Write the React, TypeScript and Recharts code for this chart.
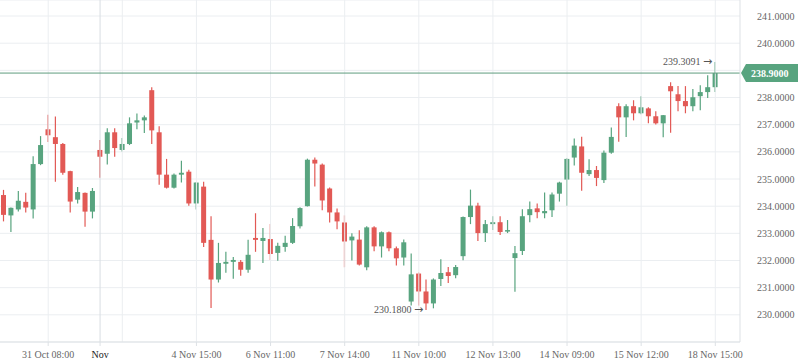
import {
  ComposedChart,
  Bar,
  XAxis,
  YAxis,
  CartesianGrid,
  ReferenceLine,
  ReferenceDot,
} from 'recharts';

const opens = [
  234.41, 233.66, 233.88, 234.16, 233.88, 235.55, 236.83, 236.54, 236.29, 235.29,
  234.24, 234.49, 233.8, 236.07, 235.93, 236.72, 236.07, 236.29, 237.08, 237.16,
  238.27, 236.72, 235.16, 234.68, 235.16, 235.27, 234.1, 234.72, 232.76, 231.3,
  231.88, 231.95, 231.95, 231.66, 232.83, 232.72, 232.79, 232.28, 232.5, 232.65,
  233.26, 234.0, 235.71, 235.53, 234.65, 233.77, 233.4, 232.74, 232.77, 231.75,
  233.22, 232.52, 233.04, 232.45, 232.11, 230.49, 231.52, 230.86, 230.42, 231.32,
  231.57, 231.46, 232.16, 233.6, 234.02, 233.01, 233.34, 233.41, 233.09, 232.09,
  232.35, 233.67, 233.92, 233.74, 233.85, 234.46, 234.98, 235.79, 236.2, 235.18,
  235.33, 234.96, 235.97, 237.68, 237.27, 237.68, 237.42, 237.6, 237.31, 237.05,
  238.42, 238.12, 237.87, 237.68, 238.05, 238.2, 238.38,
];

const closes = [
  233.68, 233.94, 234.2, 233.95, 235.55, 236.25, 236.61, 236.29, 235.23, 234.17,
  234.52, 233.8, 234.56, 235.82, 236.72, 236.14, 236.29, 237.05, 237.16, 237.27,
  236.79, 235.16, 234.68, 235.16, 235.23, 234.1, 234.87, 232.65, 231.3, 231.91,
  231.95, 232.02, 231.66, 232.21, 232.76, 232.83, 232.24, 232.54, 232.65, 233.27,
  233.93, 235.71, 235.57, 234.21, 233.77, 233.44, 232.7, 232.88, 231.85, 233.22,
  232.52, 233.04, 232.45, 232.08, 232.67, 231.49, 230.86, 230.42, 231.3, 231.54,
  231.43, 231.76, 233.6, 234.02, 233.01, 233.34, 233.41, 233.05, 233.12, 232.27,
  233.63, 233.89, 233.78, 233.82, 234.43, 234.87, 235.74, 236.23, 235.23, 235.33,
  235.04, 235.97, 236.55, 237.27, 237.68, 237.42, 237.64, 237.31, 237.05, 237.35,
  238.23, 237.87, 237.68, 238.01, 238.2, 238.38, 238.9,
];

const highs = [
  234.6, 233.95, 234.56, 234.49, 235.84, 236.58, 237.37, 237.3, 236.33, 235.3,
  234.71, 234.5, 234.67, 236.44, 236.87, 236.87, 236.51, 237.27, 237.41, 237.34,
  238.38, 236.94, 235.74, 235.2, 235.67, 235.34, 234.88, 234.9, 233.63, 232.65,
  232.32, 232.13, 232.02, 232.76, 233.74, 233.2, 233.34, 232.65, 232.91, 233.56,
  233.96, 235.75, 235.79, 235.57, 234.69, 233.91, 233.66, 233.0, 233.11, 233.26,
  233.26, 233.07, 233.07, 232.52, 232.77, 232.26, 231.56, 231.3, 231.34, 232.05,
  231.76, 231.83, 233.62, 234.61, 234.13, 233.49, 233.63, 233.63, 233.49, 232.53,
  233.89, 234.17, 234.1, 234.5, 234.5, 234.9, 235.76, 236.49, 236.56, 235.73,
  235.48, 236.05, 236.9, 237.79, 237.75, 237.9, 238.05, 237.64, 237.49, 237.36,
  238.56, 238.42, 238.42, 238.31, 238.45, 238.82, 239.3091,
];

const lows = [
  233.44, 233.05, 233.8, 233.77, 233.55, 235.51, 236.36, 234.9, 235.16, 233.77,
  234.1, 233.24, 233.55, 235.05, 235.53, 235.82, 236.01, 236.25, 236.83, 236.69,
  236.29, 234.79, 234.65, 234.65, 234.87, 234.02, 233.88, 232.5, 230.25, 231.19,
  231.55, 231.33, 231.44, 231.55, 232.32, 231.91, 232.02, 231.99, 232.32, 232.61,
  233.18, 233.99, 234.72, 233.85, 233.4, 233.15, 231.75, 232.0, 231.82, 231.64,
  232.34, 232.11, 232.34, 231.82, 231.82, 230.34, 230.34, 230.18, 230.24, 231.06,
  231.17, 231.35, 232.01, 233.34, 232.72, 232.68, 233.12, 232.94, 233.01, 230.85,
  232.2, 233.41, 233.56, 233.56, 233.6, 234.17, 234.02, 235.5, 234.57, 235.11,
  234.74, 234.85, 235.93, 236.37, 236.55, 237.16, 237.38, 237.05, 237.01, 236.54,
  236.7, 237.49, 237.42, 237.49, 237.53, 237.98, 238.2,
];

const tickIdx = [6, 13, 26, 36, 46, 56, 66, 76, 86, 96];
const tickText = [
  '31 Oct 08:00', 'Nov', '4 Nov 15:00', '6 Nov 11:00', '7 Nov 14:00',
  '11 Nov 10:00', '12 Nov 13:00', '14 Nov 09:00', '15 Nov 12:00', '18 Nov 15:00',
];
const gridIdx = [6, 16, 26, 36, 46, 56, 66, 76, 86, 96];
const monthIdx = 13;
const priceTicks = [230, 231, 232, 233, 234, 235, 236, 237, 238, 239, 240, 241];
const lastPrice = 238.9;

const data = opens.map((o, i) => ({
  i,
  open: o,
  close: closes[i],
  high: highs[i],
  low: lows[i],
  range: [lows[i], highs[i]],
}));

const GREEN = '#58a47f';
const RED = '#e25955';
const FONT = '"Liberation Serif", serif';

const Candle = (props: any) => {
  const { x, y, width, height, payload } = props;
  if (!payload) return null;
  const { open, close, high, low } = payload;
  const top = Math.min(y, y + height);
  const h = Math.abs(height);
  const k = h / (high - low);
  const color = close >= open ? GREEN : RED;
  const bodyTop = top + (high - Math.max(open, close)) * k;
  const bodyH = Math.max(1.5, Math.abs(open - close) * k);
  const cx = x + width / 2;
  return (
    <g>
      <line x1={cx} x2={cx} y1={top} y2={top + h} stroke={color} strokeWidth={1.2} />
      <rect x={x} y={bodyTop} width={width} height={bodyH} fill={color} />
    </g>
  );
};

const TimeTick = (props: any) => {
  const { x, y, payload } = props;
  const k = tickIdx.indexOf(payload.value);
  const isMonth = payload.value === monthIdx;
  return (
    <text
      x={x}
      y={y}
      dy={8}
      textAnchor='middle'
      fontFamily={FONT}
      fontSize={10}
      fill={isMonth ? '#222' : '#666'}
    >
      {k >= 0 ? tickText[k] : ''}
    </text>
  );
};

// the price tag covers the 239 label, so that one is left blank
const PriceTick = (props: any) => {
  const { x, y, payload } = props;
  if (Math.abs(payload.value - lastPrice) < 0.5) return <g />;
  return (
    <text x={x} y={y} dy={3.5} fontFamily={FONT} fontSize={10} fill='#666'>
      {payload.value.toFixed(4)}
    </text>
  );
};

const PriceTag = (props: any) => {
  const vb = props.viewBox || {};
  const right = vb.x + vb.width;
  const y = vb.y;
  return (
    <g>
      <path
        d={`M${right + 1},${y} L${right + 6},${y - 9} L798,${y - 9} L798,${y + 9} L${right + 6},${y + 9} Z`}
        fill={GREEN}
      />
      <text x={right + 11} y={y + 4} fill='#fff' fontFamily={FONT} fontSize={10} fontWeight='bold'>
        {lastPrice.toFixed(4)}
      </text>
    </g>
  );
};

const Note = (props: any) => {
  const vb = props.viewBox || {};
  return (
    <text
      x={vb.x - 3}
      y={vb.y + 3.5}
      textAnchor='end'
      fontFamily={FONT}
      fontSize={10}
      fill='#555'
    >
      {props.text + ' '}
      <tspan fontFamily='"DejaVu Sans", sans-serif' fontSize={11}>
        {'\u2192'}
      </tspan>
    </text>
  );
};

const App = () => {
  const hi = highs.indexOf(Math.max(...highs));
  const lo = lows.indexOf(Math.min(...lows));
  return (
    <div style={{ position: 'absolute', left: 0, top: 0 }}>
      <ComposedChart
        width={798}
        height={363}
        data={data}
        margin={{ top: 0, right: 0, bottom: 0, left: 0 }}
      >
        <CartesianGrid vertical={false} stroke='#ebeef1' />
        {gridIdx.map((g) => (
          <ReferenceLine key={g} x={g} stroke='#ebeef1' />
        ))}
        <ReferenceLine x={monthIdx} stroke='#d8dde2' />
        <XAxis
          dataKey='i'
          type='category'
          ticks={tickIdx}
          interval={0}
          padding={{ left: 0, right: 21 }}
          height={21}
          tick={<TimeTick />}
          tickSize={4}
          tickMargin={4}
          axisLine={{ stroke: '#dde1e5' }}
          tickLine={{ stroke: '#dde1e5' }}
        />
        <YAxis
          orientation='right'
          domain={[229.0, 241.59]}
          allowDataOverflow
          ticks={priceTicks}
          width={58}
          tickLine={false}
          tickMargin={11}
          axisLine={{ stroke: '#dde1e5' }}
          tick={<PriceTick />}
        />
        <Bar
          dataKey='range'
          barSize={5}
          shape={<Candle />}
          isAnimationActive={false}
        />
        <ReferenceLine
          y={lastPrice}
          stroke='#5f9c7f'
          strokeWidth={1}
          label={<PriceTag />}
        />
        <ReferenceDot
          x={hi}
          y={highs[hi]}
          r={0}
          fill='none'
          stroke='none'
          label={<Note text={highs[hi].toFixed(4)} />}
        />
        <ReferenceDot
          x={lo}
          y={lows[lo]}
          r={0}
          fill='none'
          stroke='none'
          label={<Note text={lows[lo].toFixed(4)} />}
        />
      </ComposedChart>
    </div>
  );
};

export default App;
